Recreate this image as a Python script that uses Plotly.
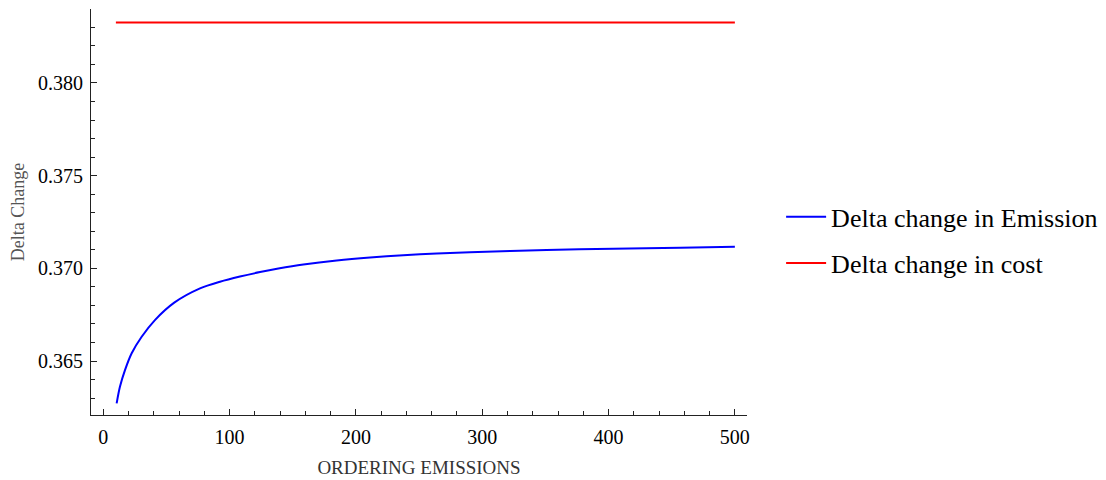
import plotly.graph_objects as go

# Data
emission_x = [10.6, 13.2, 17.2, 22.5, 30.4, 40.9, 56.2, 76.6, 92.4, 108.2, 124.1, 138.6, 158.4,
              184.8, 211.2, 237.5, 264.0, 290.3, 351.0, 403.8, 456.8, 500.0]
emission_y = [0.36272, 0.36361, 0.36451, 0.36542, 0.36631, 0.36721, 0.36815, 0.36892, 0.36928,
              0.36956, 0.36980, 0.36999, 0.37021, 0.37043, 0.37059, 0.37071, 0.37080, 0.37087,
              0.37099, 0.37106, 0.37111, 0.37116]
cost_x = [10, 500]
cost_y = [0.38326, 0.38326]

x_ticks = [0, 100, 200, 300, 400, 500]
y_ticks = [0.365, 0.370, 0.375, 0.380]

FONT = "Liberation Serif, Times New Roman, serif"

fig = go.Figure()
fig.add_trace(go.Scatter(x=emission_x, y=emission_y, mode="lines",
                         line=dict(color="#0000ff", width=2, shape="spline", smoothing=0.8),
                         name="Delta change in Emission", legend="legend"))
fig.add_trace(go.Scatter(x=cost_x, y=cost_y, mode="lines",
                         line=dict(color="#ff0000", width=2),
                         name="Delta change in cost", legend="legend2"))

axis_common = dict(showline=True, linecolor="#222", linewidth=1.2, showgrid=False,
                   zeroline=False, ticks="inside", tickcolor="#222", tickwidth=1,
                   mirror=False, automargin=False)

# page body has an 8px margin, so the figure is 8px smaller on each axis
fig.update_layout(
    width=1098, height=472,
    paper_bgcolor="white", plot_bgcolor="white",
    margin=dict(l=83, r=359, t=1, b=65),
    font=dict(family=FONT, color="black"),
    xaxis=dict(range=[-9.7, 509.6], tickvals=x_ticks, ticklen=6, ticklabelstandoff=4,
               tickfont=dict(size=20, family=FONT, color="black"),
               minor=dict(dtick=20, tick0=0, ticks="inside", ticklen=4, tickcolor="#222"),
               title=dict(text="ORDERING EMISSIONS", font=dict(size=19, family=FONT, color="#333"),
                          standoff=13),
               **axis_common),
    yaxis=dict(range=[0.36209, 0.38399], tickvals=y_ticks, tickformat=".3f", ticklen=6,
               ticklabelstandoff=3,
               tickfont=dict(size=20, family=FONT, color="black"),
               minor=dict(dtick=0.001, tick0=0.365, ticks="inside", ticklen=4, tickcolor="#222"),
               title=dict(text="Delta Change", font=dict(size=18, family=FONT, color="#555"),
                          standoff=11),
               **axis_common),
    legend=dict(x=1.052, y=0.488, xanchor="left", yanchor="middle", itemwidth=40,
                font=dict(size=26, family=FONT, color="black"), bgcolor="rgba(0,0,0,0)"),
    legend2=dict(x=1.052, y=0.374, xanchor="left", yanchor="middle", itemwidth=40,
                 font=dict(size=26, family=FONT, color="black"), bgcolor="rgba(0,0,0,0)"),
    showlegend=True,
)

fig.write_html("out.html")
